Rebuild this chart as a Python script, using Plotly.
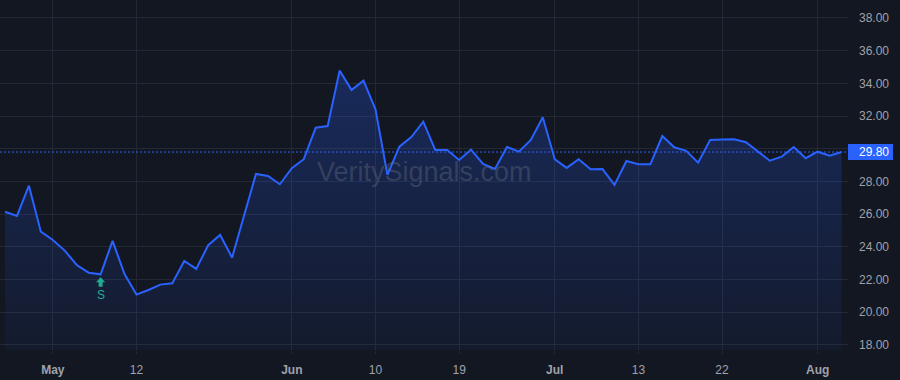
import plotly.graph_objects as go

# ---- data (daily closes) ----
prices = [
    26.15, 25.89, 27.74, 24.93, 24.42, 23.77, 22.89, 22.42, 22.32, 24.36,
    22.34, 21.08, 21.36, 21.69, 21.77, 23.14, 22.65, 24.10, 24.73, 23.34,
    25.90, 28.46, 28.34, 27.83, 28.81, 29.36, 31.29, 31.39, 34.78, 33.60,
    34.17, 32.41, 28.40, 30.13, 30.72, 31.66, 29.93, 29.93, 29.31, 29.95,
    29.07, 28.76, 30.11, 29.82, 30.54, 31.93, 29.36, 28.83, 29.36, 28.75,
    28.76, 27.79, 29.25, 29.05, 29.05, 30.78, 30.09, 29.87, 29.15, 30.54,
    30.56, 30.58, 30.40, 29.82, 29.27, 29.52, 30.11, 29.42, 29.82, 29.58,
    29.80,
]
bars = list(range(len(prices)))

tick_bars = [4, 11, 24, 31, 38, 46, 53, 60, 68]
tick_labels = ["May", "12", "Jun", "10", "19", "Jul", "13", "22", "Aug"]
month_labels = {"May", "Jun", "Jul", "Aug"}

price_ticks = [18, 20, 22, 24, 26, 28, 30, 32, 34, 36, 38]
last_price = prices[-1]

signal_bar = 8
signal_text = "S"
watermark = "VeritySignals.com"

# ---- style ----
BG = "#131722"
GRID = "#232834"
LINE = "#2962ff"
TEXT = "#9fa2ab"
TEAL = "#22ab94"
FONT = "Liberation Sans"

fig = go.Figure()

fig.add_trace(go.Scatter(
    x=bars, y=prices, mode="lines",
    line=dict(color=LINE, width=2),
    fill="tozeroy",
    fillgradient=dict(
        type="vertical",
        start=17.69, stop=max(prices),
        colorscale=[[0, "rgba(41,98,255,0.05)"], [1, "rgba(41,98,255,0.26)"]],
    ),
    hoverinfo="skip", showlegend=False,
))

tick_text = [f"<b>{t}</b>" if t in month_labels else t for t in tick_labels]
ytext = ["" if abs(v - last_price) < 0.6 else f"{v:.2f}" for v in price_ticks]

fig.update_layout(
    width=900, height=380,
    margin=dict(l=0, r=52, t=0, b=30),
    paper_bgcolor=BG, plot_bgcolor=BG,
    font=dict(family=FONT, size=12, color=TEXT),
    xaxis=dict(
        range=[-0.42, 70.54],
        tickmode="array", tickvals=tick_bars, ticktext=tick_text,
        showgrid=True, gridcolor=GRID, gridwidth=1,
        zeroline=False, showline=False,
        ticks="outside", ticklen=3, tickcolor=GRID,
        ticklabelstandoff=6,
        tickfont=dict(family=FONT, size=12, color=TEXT),
        fixedrange=True,
    ),
    yaxis=dict(
        range=[17.69, 39.1], side="right",
        tickmode="array", tickvals=price_ticks, ticktext=ytext,
        showgrid=True, gridcolor=GRID, gridwidth=1,
        zeroline=False, showline=False,
        ticks="", ticklabelstandoff=10,
        tickfont=dict(family=FONT, size=12, color=TEXT),
        fixedrange=True,
    ),
    hovermode=False,
)

# watermark
fig.add_annotation(
    text=watermark, xref="paper", yref="paper", x=0.5, y=0.51,
    showarrow=False, font=dict(family=FONT, size=27, color="rgba(120,125,140,0.33)"),
)

# last price dotted line
fig.add_shape(
    type="line", xref="paper", yref="y", x0=0, x1=1, y0=last_price, y1=last_price,
    line=dict(color=LINE, width=1, dash="2px,2px"), layer="above",
)
# last price label box
fig.add_shape(
    type="rect", xref="paper", yref="y",
    xsizemode="pixel", ysizemode="pixel", xanchor=1, yanchor=last_price,
    x0=0, x1=45, y0=-8, y1=8,
    fillcolor=LINE, line=dict(width=0), layer="above",
)
fig.add_annotation(
    text=f"{last_price:.2f}", xref="paper", yref="y", x=1, y=last_price,
    xanchor="left", yanchor="middle", xshift=9, showarrow=False,
    font=dict(family=FONT, size=12, color="#ffffff"),
)

# signal marker: up arrow below the bar, then its label
fig.add_shape(
    type="path", xref="x", yref="y",
    xsizemode="pixel", ysizemode="pixel",
    xanchor=signal_bar, yanchor=prices[signal_bar],
    path="M 0 -3 L 4.6 -8 L 2 -8 L 2 -12.5 L -2 -12.5 L -2 -8 L -4.6 -8 Z",
    fillcolor=TEAL, line=dict(width=0), layer="above",
)
fig.add_annotation(
    text=signal_text, x=signal_bar, y=prices[signal_bar], yshift=-21,
    showarrow=False, font=dict(family=FONT, size=12, color=TEAL),
)

fig.write_html("out.html")
